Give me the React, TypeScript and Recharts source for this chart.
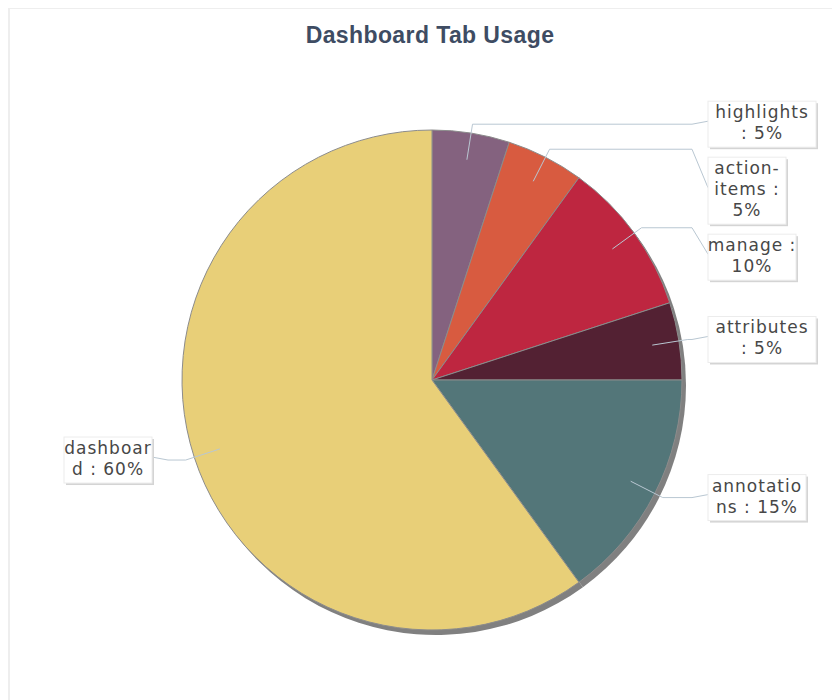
import { PieChart, Pie, Cell } from 'recharts';

const categories = ['highlights', 'action-items', 'manage', 'attributes', 'annotations', 'dashboard'];
const shares = [5, 5, 10, 5, 15, 60];
const sliceColors = ['#84627f', '#d85b40', '#be2640', '#532133', '#537679', '#e8cf78'];
// label text as wrapped in the original boxes
const labelLines = [
  ['highlights', ': 5%'],
  ['action-', 'items :', '5%'],
  ['manage :', '10%'],
  ['attributes', ': 5%'],
  ['annotatio', 'ns : 15%'],
  ['dashboar', 'd : 60%'],
];

const data = categories.map((name, i) => ({ name, value: shares[i] }));

const W = 832;
const H = 692;
const CX = 424;
const CY = 372;
const R = 250;
const RAD = Math.PI / 180;
const LINE_H = 21;
const ELBOW = 9;
const ANCHOR = 27;

const boxHeight = (i: number) => labelLines[i].length * LINE_H + 4;
const boxWidth = (i: number) => Math.max(...labelLines[i].map((l) => l.length)) * 10 + 8;

// stack the label boxes on each side so they don't overlap
function layoutBoxes() {
  const total = shares.reduce((a, b) => a + b, 0);
  let acc = 0;
  const items = shares.map((v, i) => {
    const mid = 90 - (360 * (acc + v / 2)) / total;
    acc += v;
    const ey = CY - (R + ELBOW) * Math.sin(mid * RAD);
    return { i, right: Math.cos(mid * RAD) >= 0, top: ey - boxHeight(i) / 2 };
  });
  const tops: number[] = [];
  [true, false].forEach((side) => {
    let bottom = -Infinity;
    items
      .filter((d) => d.right === side)
      .sort((a, b) => a.top - b.top)
      .forEach((d) => {
        const top = Math.max(d.top, bottom + 10);
        tops[d.i] = top;
        bottom = top + boxHeight(d.i);
      });
  });
  return tops;
}

const boxTops = layoutBoxes();

function SliceLabel(props: any) {
  const { cx, cy, midAngle, outerRadius, index } = props;
  const cos = Math.cos(-midAngle * RAD);
  const sin = Math.sin(-midAngle * RAD);
  const ax = cx + (outerRadius - ANCHOR) * cos;
  const ay = cy + (outerRadius - ANCHOR) * sin;
  const ex = cx + (outerRadius + ELBOW) * cos;
  const ey = cy + (outerRadius + ELBOW) * sin;
  const right = cos >= 0;
  const lines = labelLines[index];
  const h = boxHeight(index);
  const w = boxWidth(index);
  const top = boxTops[index];
  const midY = top + h / 2;
  const bx = right ? cx + 276 : cx - 280 - w;
  const edgeX = right ? bx : bx + w;
  const kneeX = right ? edgeX - 16 : edgeX + 16;
  const pts = `${ax},${ay} ${ex},${ey} ${kneeX},${ey} ${edgeX},${midY - 3}`;

  return (
    <g>
      <polyline points={pts} fill="none" stroke="#b9c7d2" strokeWidth={1} />
      <rect x={bx + 2} y={top + 2} width={w} height={h} fill="#d4d4d4" />
      <rect x={bx} y={top} width={w} height={h} fill="#fff" stroke="#ececec" strokeWidth={1} />
      {lines.map((t, k) => (
        <text
          key={k}
          x={bx + w / 2}
          y={top + 17 + k * LINE_H}
          textAnchor="middle"
          fontFamily="DejaVu Sans, Verdana, sans-serif"
          fontSize={17}
          letterSpacing={1}
          fill="#474747"
        >
          {t}
        </text>
      ))}
    </g>
  );
}

export default function App() {
  return (
    <div style={{ position: 'relative', width: W, height: H }}>
      <div
        style={{
          position: 'absolute',
          left: 0,
          top: -1,
          width: 840,
          height: 700,
          borderTop: '2px solid #eeeeee',
          borderLeft: '2px solid #eeeeee',
        }}
      />
      <div
        style={{
          position: 'absolute',
          left: 0,
          top: 14,
          width: 844,
          textAlign: 'center',
          fontFamily: 'Liberation Sans, Arial, sans-serif',
          fontWeight: 'bold',
          fontSize: 23,
          letterSpacing: 0.4,
          lineHeight: '26px',
          color: '#3e4c63',
        }}
      >
        Dashboard Tab Usage
      </div>
      <div style={{ position: 'absolute', left: 0, top: 0 }}>
        <PieChart width={W} height={H} margin={{ top: 0, right: 0, bottom: 0, left: 0 }}>
          <Pie
            data={data}
            dataKey="value"
            cx={CX + 4}
            cy={CY + 5}
            outerRadius={R}
            startAngle={90}
            endAngle={-270}
            fill="#808080"
            stroke="none"
            isAnimationActive={false}
          />
          <Pie
            data={data}
            dataKey="value"
            cx={CX}
            cy={CY}
            outerRadius={R}
            startAngle={90}
            endAngle={-270}
            stroke="#8c8c8c"
            strokeWidth={1}
            label={SliceLabel}
            labelLine={false}
            isAnimationActive={false}
          >
            {data.map((d, i) => (
              <Cell key={d.name} fill={sliceColors[i]} />
            ))}
          </Pie>
        </PieChart>
      </div>
    </div>
  );
}
